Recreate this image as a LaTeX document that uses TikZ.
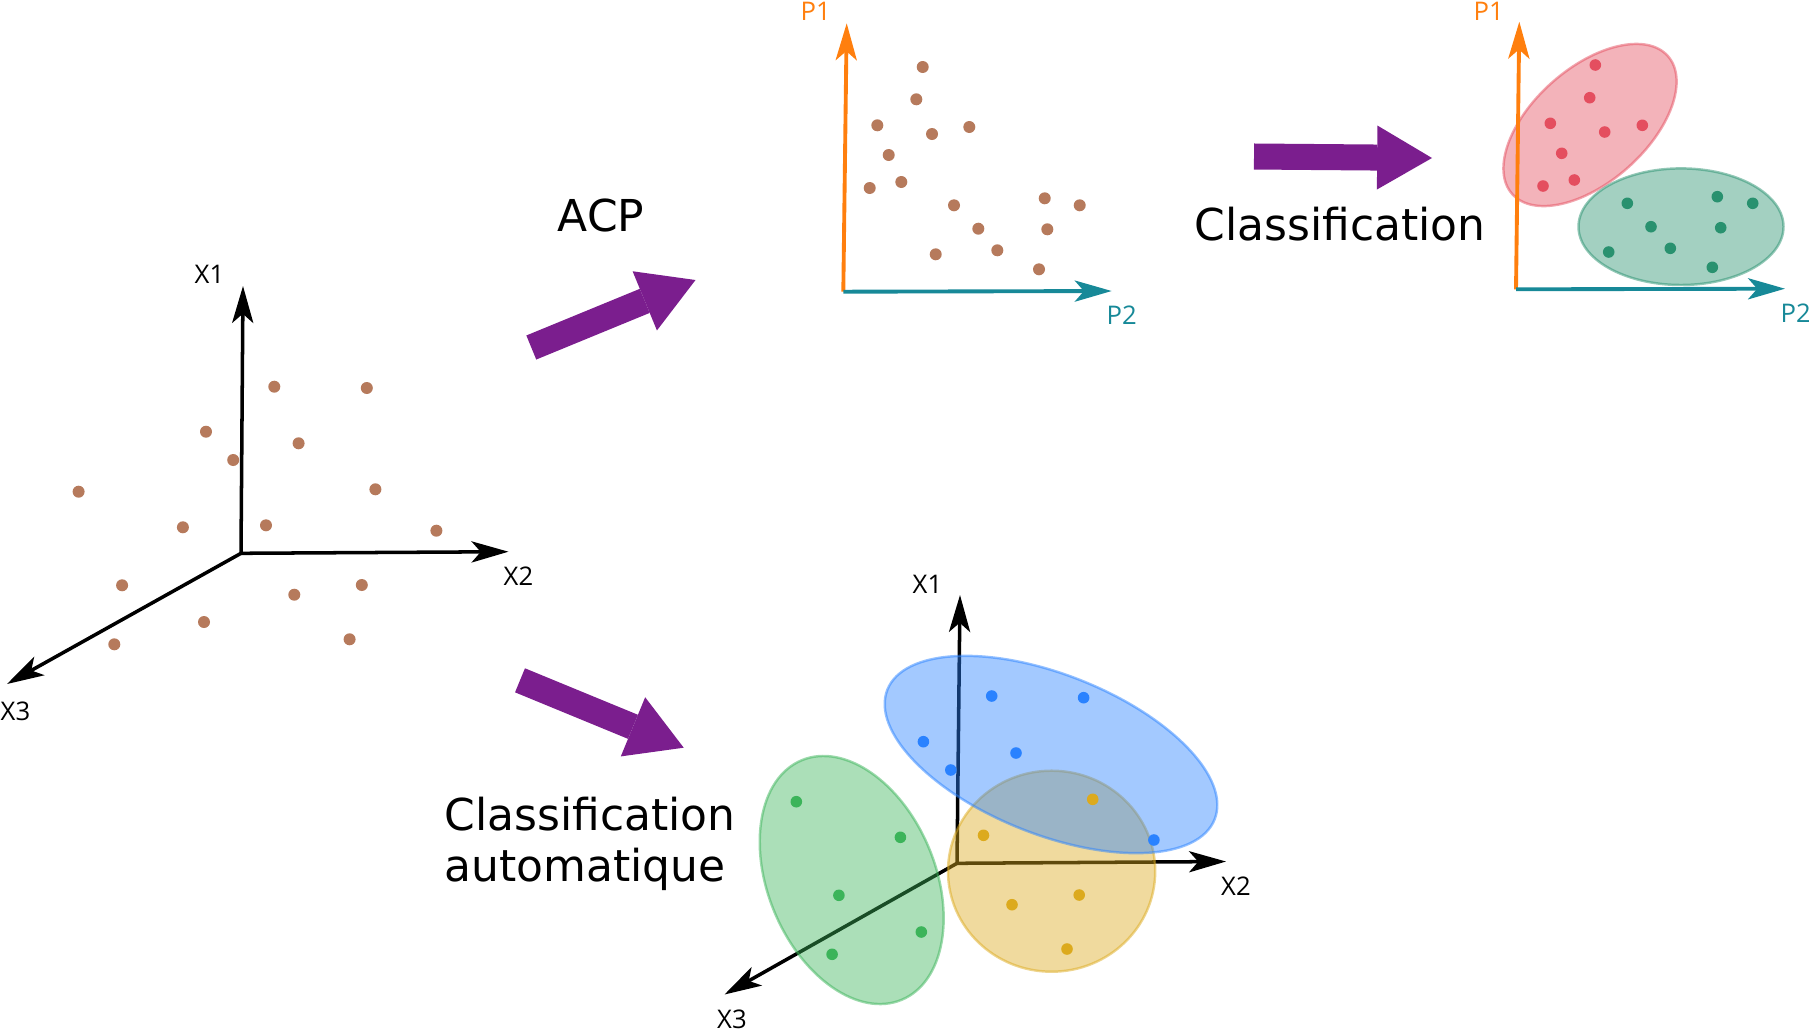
\documentclass[tikz,border=0pt]{standalone}
\usepackage{fontspec}
\setmainfont{DejaVu Sans}
\newfontfamily\axisfont{Open Sans}
\usepackage{xcolor}
\usetikzlibrary{arrows.meta}

\definecolor{brun}{RGB}{182,122,92}
\definecolor{violetacp}{RGB}{123,30,142}
\definecolor{orangep}{RGB}{255,127,14}
\definecolor{tealp}{RGB}{23,137,152}
\definecolor{rouge}{RGB}{228,78,95}
\definecolor{vertd}{RGB}{41,145,111}
\definecolor{bleu}{RGB}{42,130,255}
\definecolor{jaune}{RGB}{220,170,30}
\definecolor{vert}{RGB}{60,180,90}

\tikzset{pointe/.tip={Stealth[length=10.5pt, width=6pt, inset=2.6pt]}}

\begin{document}
\begin{tikzpicture}[
        x=0.01cm, y=-0.01cm,
        axe/.style={line width=1pt, -pointe},
        axep/.style={line width=1.1pt, draw=#1, -pointe},
        fleche/.style={line width=7.4pt, draw=violetacp, -{Triangle[length=15.6pt, width=18.2pt, line width=0pt]}},
        groupe/.style={fill=#1, fill opacity=0.43, draw=#1, draw opacity=0.5, line width=0.7pt},
        titre/.style={inner sep=0pt, anchor=base west, align=left, font=\fontsize{12.5}{14.7}\selectfont},
        nomaxe/.style={inner sep=0pt, anchor=base west, font=\axisfont\fontsize{7.3}{8.8}\selectfont}
    ]
    \useasboundingbox (0,0) rectangle (1809,1030);

    % espace de depart
    \coordinate (o1) at (241,553.3);
    \coordinate (x1a) at (243,286);
    \coordinate (x2a) at (508.5,551.7);
    \coordinate (x3a) at (7,684);
    \draw[axe, pointe-pointe] (x1a) -- (o1) -- (x2a);
    \draw[axe] (o1) -- (x3a);
    \foreach \x/\y in {274.3/386.7, 366.8/388, 206/431.7, 298.6/443.3, 233.2/460, 78.6/491.7,
            375.4/489.3, 182.9/527.3, 266/525.3, 436.4/530.7, 122.1/585.3, 361.8/585,
            294.3/594.7, 204/622, 114.3/644.3, 349.6/639.3}
        \fill[brun] (\x,\y) circle[radius=6];
    \node[nomaxe] (lx1a) at (194,283.5) {X1};
    \node[nomaxe] (lx2a) at (503,585.5) {X2};
    \node[nomaxe] (lx3a) at (0,720) {X3};

    % ACP
    \coordinate (acpA) at (531.3,347.5);
    \coordinate (acpB) at (695.5,280);
    \draw[fleche] (acpA) -- (acpB);
    \node[titre] (acp) at (557,231.7) {ACP};

    \coordinate (o2) at (843.3,291.7);
    \coordinate (p1a) at (846.7,23.3);
    \coordinate (p2a) at (1111.7,291);
    \draw[axep=orangep] (o2) -- (p1a);
    \draw[axep=tealp] (o2) -- (p2a);
    \foreach \x/\y in {922.7/67, 916.3/99.3, 877.3/125.3, 932/134, 969.3/127, 888.7/155,
            869.7/188, 901.3/182, 954/205.3, 1044.7/198.3, 1079.7/205.3, 978.3/228.7,
            1047.3/229.3, 997.3/250.3, 935.7/254.3, 1039/269.3}
        \fill[brun] (\x,\y) circle[radius=6];
    \node[nomaxe, text=orangep] (lp1a) at (800,20) {P1};
    \node[nomaxe, text=tealp] (lp2a) at (1106,324) {P2};

    % classification
    \coordinate (clA) at (1254,156.5);
    \coordinate (clB) at (1432,158);
    \draw[fleche] (clA) -- (clB);
    \node[titre] (classif) at (1194,240) {Classification};

    \draw[groupe=rouge] (1590,125) ellipse [x radius=104, y radius=57, rotate=41.5];
    \draw[groupe=vertd] (1681,226.7) ellipse [x radius=102.5, y radius=58.3];
    \coordinate (o3) at (1516,289.3);
    \coordinate (p1b) at (1519.3,21.7);
    \coordinate (p2b) at (1785,288.7);
    \draw[axep=orangep] (o3) -- (p1b);
    \draw[axep=tealp] (o3) -- (p2b);
    \foreach \x/\y in {1595.3/65, 1589.7/97.7, 1550.3/123.3, 1604.7/132, 1642.3/125.3,
            1561.7/153.3, 1574.3/180, 1543/186}
        \fill[rouge] (\x,\y) circle[radius=5.8];
    \foreach \x/\y in {1627.3/203.3, 1717.3/196.7, 1752.7/203.3, 1651/226.7, 1720.7/227.7,
            1608.7/252, 1670.3/248.3, 1712.3/267.3}
        \fill[vertd] (\x,\y) circle[radius=5.8];
    \node[nomaxe, text=orangep] (lp1b) at (1473,20) {P1};
    \node[nomaxe, text=tealp] (lp2b) at (1780,322) {P2};

    % classification automatique
    \coordinate (clbA) at (520,680.3);
    \coordinate (clbB) at (683.7,747.7);
    \draw[fleche] (clbA) -- (clbB);
    \node[titre] (classauto) at (444,881.7) {Classification\\automatique};

    \coordinate (o4) at (957,863.3);
    \coordinate (x1b) at (960,595);
    \coordinate (x2b) at (1226,861.5);
    \coordinate (x3b) at (724.5,994.5);
    \draw[axe, pointe-pointe] (x1b) -- (o4) -- (x2b);
    \draw[axe] (o4) -- (x3b);
    \draw[groupe=jaune] (1051.6,871.2) ellipse [x radius=103.6, y radius=100.5];
    \draw[groupe=vert] (851.7,880) ellipse [x radius=83.6, y radius=129.8, rotate=22.7];
    \draw[groupe=bleu] (1051,754.5) ellipse [x radius=176, y radius=80, rotate=-21.6];
    \foreach \x/\y in {991.7/696, 1083.6/697.7, 923.4/741.7, 1016/753, 950.8/770, 1153.9/840}
        \fill[bleu] (\x,\y) circle[radius=5.8];
    \foreach \x/\y in {1092.7/799.3, 983.5/835.3, 1079.2/895, 1012/904.7, 1067/949}
        \fill[jaune] (\x,\y) circle[radius=5.8];
    \foreach \x/\y in {796.3/801.7, 900.4/837.3, 838.9/895.3, 921.3/932, 832.1/954.3}
        \fill[vert] (\x,\y) circle[radius=5.8];
    \node[nomaxe] (lx1b) at (912,593.5) {X1};
    \node[nomaxe] (lx2b) at (1220.5,895) {X2};
    \node[nomaxe] (lx3b) at (716.5,1028) {X3};
\end{tikzpicture}
\end{document}
